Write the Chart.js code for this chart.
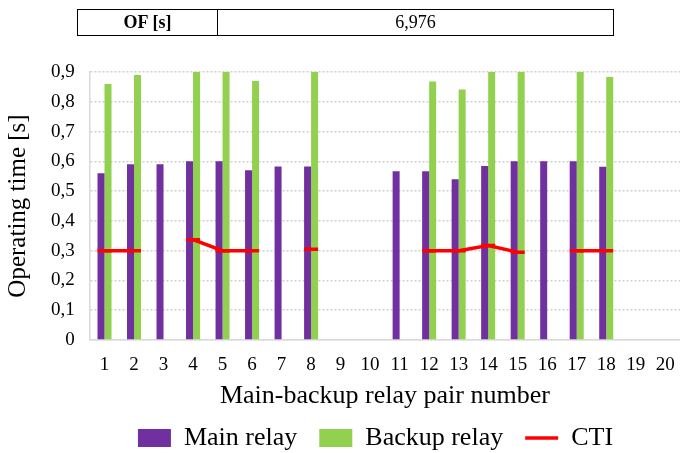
<!DOCTYPE html>
<html>
<head>
<meta charset="utf-8">
<script src="https://cdn.jsdelivr.net/npm/chart.js@4"></script>
<style>
  body { margin: 0; background: #fff; }
  #wrap { position: relative; width: 680px; height: 453px; }
  #ofTable { position: absolute; left: 77px; top: 9px; width: 537px; height: 27px;
    border-collapse: collapse; font-family: "Liberation Serif", serif; font-size: 18px; }
  #ofTable td { border: 1px solid #000; text-align: center; padding: 0; }
</style>
</head>
<body>
<div id="wrap">
  <canvas id="chartBar" width="680" height="453"></canvas>
  <table id="ofTable"><tr><td style="width:139px;font-weight:bold">OF [s]</td><td>6,976</td></tr></table>
</div>
<script>
var pairNumbers = ["1","2","3","4","5","6","7","8","9","10","11","12","13","14","15","16","17","18","19","20"];
var mainRelay = [0.56, 0.59, 0.59, 0.60, 0.60, 0.57, 0.583, 0.583, null, null, 0.567, 0.567, 0.54, 0.584, 0.60, 0.60, 0.60, 0.582, null, null];
var backupRelay = [0.86, 0.89, null, 0.90, 0.90, 0.87, null, 0.90, null, null, null, 0.868, 0.841, 0.90, 0.90, null, 0.90, 0.883, null, null];
var cti = [0.30, 0.30, null, 0.337, 0.30, 0.30, null, 0.305, null, null, null, 0.30, 0.30, 0.317, 0.295, null, 0.30, 0.30, null, null];
var yTicks = ["0", "0,1", "0,2", "0,3", "0,4", "0,5", "0,6", "0,7", "0,8", "0,9"];

var serif = "'Liberation Serif', 'Times New Roman', serif";

// legend sits centred under the plot rather than the whole canvas
var shiftLegend = {
  id: 'shiftLegend',
  afterLayout: function(chart){
    chart.legend.left += 34;
    chart.legend.right += 34;
  }
};

function createBarChart(){
  var ctx = document.getElementById("chartBar").getContext('2d');
  var myChart = new Chart(ctx, {
    type: 'bar',
    data: {
      labels: pairNumbers,
      datasets: [{
        label: "Main relay",
        data: mainRelay,
        backgroundColor: "#7030A0",
        pointStyle: 'rect',
        order: 2
      }, {
        label: "Backup relay",
        data: backupRelay,
        backgroundColor: "#92D050",
        pointStyle: 'rect',
        order: 2
      }, {
        label: "CTI",
        type: 'line',
        data: cti,
        borderColor: "#FF0000",
        backgroundColor: "#FF0000",
        borderWidth: 3.5,
        pointStyle: 'line',
        pointRadius: 7,
        pointBorderWidth: 3.5,
        spanGaps: false,
        order: 1
      }]
    },
    plugins: [shiftLegend],
    options: {
      responsive: false,
      animation: false,
      layout: { autoPadding: false, padding: { top: 72, right: 0, left: 3, bottom: -8 } },
      datasets: { bar: { categoryPercentage: 0.475, barPercentage: 1 } },
      plugins: {
        tooltip: { enabled: false },
        legend: {
          position: 'bottom',
          labels: {
            usePointStyle: true,
            pointStyleWidth: 33,
            boxHeight: 18,
            padding: 22,
            color: "#000",
            font: { family: serif, size: 26 },
            sort: function(a, b){ return a.datasetIndex - b.datasetIndex; }
          }
        }
      },
      scales: {
        x: {
          afterFit: function(scale){ scale.paddingLeft = 0; scale.paddingRight = 0; },
          grid: { display: false },
          border: { display: true, color: "#d9d9d9", width: 1.5 },
          ticks: { color: "#000", font: { family: serif, size: 19 }, maxRotation: 0, padding: 6 },
          title: { display: true, text: "Main-backup relay pair number", color: "#000",
            font: { family: serif, size: 26 }, padding: { top: -2, bottom: -9 } }
        },
        y: {
          min: 0,
          max: 0.9,
          grid: { color: "#d0d0d0", lineWidth: 1.5, drawTicks: false },
          border: { display: true, color: "#d9d9d9", width: 1.5, dash: [2, 2] },
          ticks: {
            stepSize: 0.1,
            padding: 15,
            color: "#000",
            font: { family: serif, size: 19 },
            callback: function(value, index){ return yTicks[index]; }
          },
          title: { display: true, text: "Operating time [s]", color: "#000",
            font: { family: serif, size: 25 }, padding: { top: 0, bottom: 3 } }
        }
      }
    }
  });
}

createBarChart();
</script>
</body>
</html>
